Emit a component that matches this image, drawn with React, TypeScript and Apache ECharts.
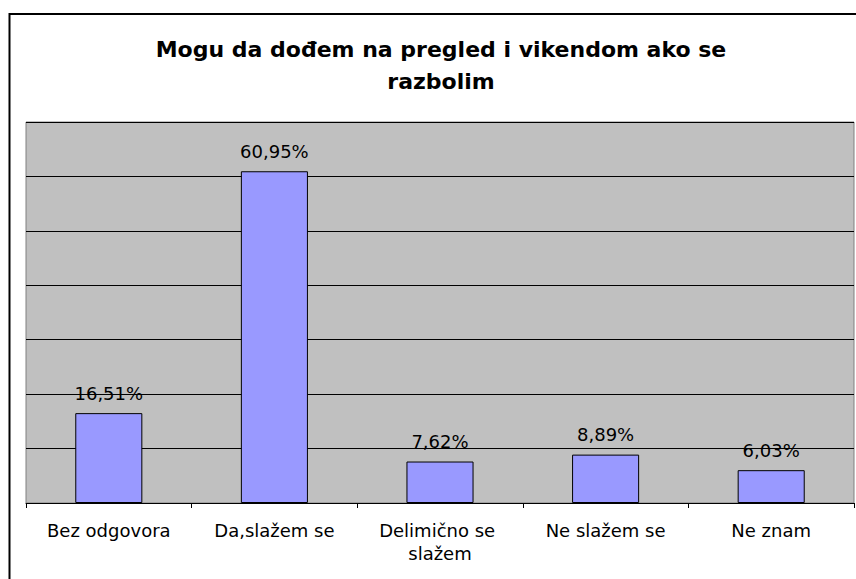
import React, { useEffect, useRef } from "react";
import * as echarts from "echarts";

const titleText = "Mogu da dođem na pregled i vikendom ako se\nrazbolim";
const categories = ["Bez odgovora", "Da,slažem se", "Delimično se slažem", "Ne slažem se", "Ne znam"];
const values = [16.51, 60.95, 7.62, 8.89, 6.03];
const yMin = 0;
const yMax = 70;
const yInterval = 10;

export default function App() {
  const ref = useRef<HTMLDivElement>(null);
  useEffect(() => {
    if (!ref.current) return;
    const chart = echarts.init(ref.current, null, { renderer: "svg" });
    chart.setOption({
      animation: false,
      backgroundColor: "#ffffff",
      graphic: [
        {
          type: "text",
          x: 441,
          y: 33,
          silent: true,
          style: {
            text: titleText,
            textAlign: "center",
            textVerticalAlign: "top",
            fontFamily: "DejaVu Sans",
            fontWeight: "bold",
            fontSize: 22,
            lineHeight: 32,
            fill: "#000",
          },
        },
        {
          type: "rect",
          shape: { x: 9.5, y: 14, width: 900, height: 700 },
          style: { fill: "none", stroke: "#000", lineWidth: 2 },
          silent: true,
          z: 100,
        },
      ],
      grid: {
        left: 26,
        right: 2,
        top: 122,
        bottom: 76,
        show: true,
        backgroundColor: "#C0C0C0",
        borderColor: "#808080",
        borderWidth: 1,
      },
      xAxis: {
        type: "category",
        data: categories,
        axisLine: { show: true, lineStyle: { color: "#000", width: 1 } },
        axisTick: { show: true, length: 5, lineStyle: { color: "#000" } },
        axisLabel: {
          color: "#000",
          fontFamily: "DejaVu Sans",
          fontSize: 18,
          lineHeight: 23,
          margin: 16,
          width: 150,
          overflow: "break",
          interval: 0,
        },
      },
      yAxis: {
        type: "value",
        min: yMin,
        max: yMax,
        interval: yInterval,
        axisLine: { show: false },
        axisTick: { show: false },
        axisLabel: { show: false },
        splitLine: { show: true, lineStyle: { color: "#000", width: 1 } },
      },
      series: [
        {
          type: "bar",
          data: values,
          barWidth: "40.5%",
          itemStyle: { color: "#9999FF", borderColor: "#000", borderWidth: 1 },
          label: {
            show: true,
            position: "top",
            distance: 11,
            color: "#000",
            fontFamily: "DejaVu Sans",
            fontSize: 18,
            formatter: (p: any) => p.value.toFixed(2).replace(".", ",") + "%",
          },
        },
      ],
    });
    return () => chart.dispose();
  }, []);
  return (
    <div
      ref={ref}
      style={{ position: "fixed", left: 0, top: 0, width: 856, height: 579 }}
    />
  );
}
